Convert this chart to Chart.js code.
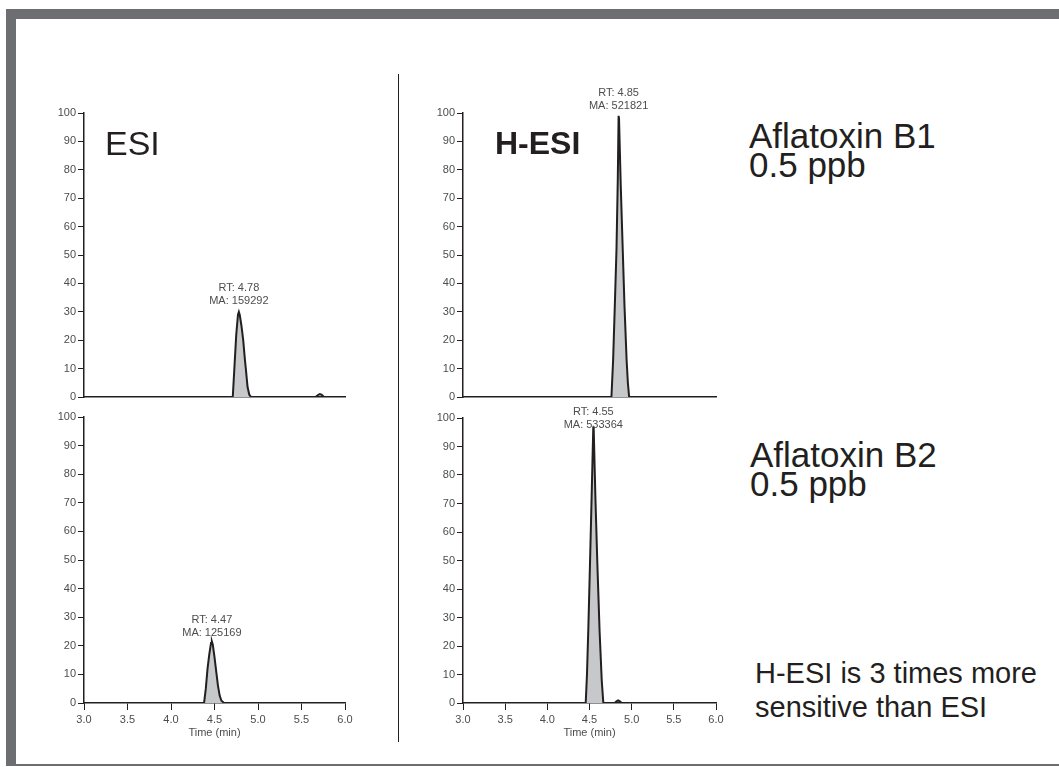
<!DOCTYPE html>
<html>
<head>
<meta charset="utf-8">
<script src="https://cdn.jsdelivr.net/npm/chart.js@4.4.0/dist/chart.umd.min.js"></script>
<style>
    html, body { margin: 0; padding: 0; background: #fff; }
    #page { position: relative; width: 1059px; height: 767px; overflow: hidden; background: #fff; }
    .frame { position: absolute; background: #6d6e71; }
    canvas { position: absolute; }
    .txt { position: absolute; white-space: nowrap; color: #231f20; font-family: "Liberation Sans", Arial, sans-serif; }
</style>
</head>
<body>
<div id="page">
    <div class="frame" style="left:6px; top:9px; width:1053px; height:10px;"></div>
    <div class="frame" style="left:6px; top:9px; width:10px; height:757px;"></div>
    <div class="frame" style="left:6px; top:764px; width:1053px; height:2px;"></div>
    <div style="position:absolute; left:398px; top:74px; width:1px; height:668px; background:#231f20;"></div>

    <canvas id="esiB1Chart" width="330" height="350" style="left:30px; top:60px;"></canvas>
    <canvas id="hesiB1Chart" width="322" height="350" style="left:409px; top:60px;"></canvas>
    <canvas id="esiB2Chart" width="330" height="348" style="left:30px; top:395px;"></canvas>
    <canvas id="hesiB2Chart" width="322" height="348" style="left:409px; top:395px;"></canvas>

    <div class="txt" style="left:105px; top:126px; font-size:34px; line-height:34px;">ESI</div>
    <div class="txt" style="left:495px; top:127px; font-size:32px; line-height:32px; font-weight:bold;">H-ESI</div>
    <div class="txt" style="left:749px; top:121px; font-size:35px; line-height:29px;">Aflatoxin B1<br>0.5 ppb</div>
    <div class="txt" style="left:750px; top:440px; font-size:35px; line-height:29px;">Aflatoxin B2<br>0.5 ppb</div>
    <div class="txt" style="left:755px; top:656px; font-size:29px; line-height:34px;">H-ESI is 3 times more<br>sensitive than ESI</div>
</div>

<script>
// ESI, Aflatoxin B1
const esiB1Time = [3.0, 4.71, 4.73, 4.75, 4.77, 4.78, 4.79, 4.81, 4.83, 4.85, 4.86, 4.88, 4.90, 4.92, 5.66, 5.69, 5.71, 5.73, 5.76, 6.0];
const esiB1Intensity = [0, 0, 11, 22, 29, 30, 29, 25, 20, 13, 10, 3.5, 0.8, 0, 0, 0.7, 1.0, 0.8, 0, 0];
const esiB1Peak = [4.71, 4.92];
const esiB1Label = ['RT: 4.78', 'MA: 159292'];

// H-ESI, Aflatoxin B1
const hesiB1Time = [3.0, 4.76, 4.78, 4.80, 4.82, 4.835, 4.845, 4.85, 4.87, 4.894, 4.915, 4.94, 4.955, 4.97, 6.0];
const hesiB1Intensity = [0, 0, 13, 32, 52, 76, 99, 98, 75, 52, 32, 13, 5, 0, 0];
const hesiB1Peak = [4.76, 4.97];
const hesiB1Label = ['RT: 4.85', 'MA: 521821'];

// ESI, Aflatoxin B2
const esiB2Time = [3.0, 4.38, 4.40, 4.42, 4.44, 4.46, 4.47, 4.48, 4.50, 4.52, 4.54, 4.56, 4.58, 4.61, 6.0];
const esiB2Intensity = [0, 0, 5, 12, 17, 21, 21.5, 20.5, 16, 11, 6, 2.5, 0.8, 0, 0];
const esiB2Peak = [4.38, 4.61];
const esiB2Label = ['RT: 4.47', 'MA: 125169'];

// H-ESI, Aflatoxin B2
const hesiB2Time = [3.0, 4.455, 4.47, 4.487, 4.506, 4.525, 4.545, 4.55, 4.57, 4.593, 4.62, 4.645, 4.664, 4.80, 4.82, 4.84, 4.86, 4.88, 6.0];
const hesiB2Intensity = [0, 0, 10, 27, 49, 72, 97, 96, 72, 49, 25, 8, 0, 0, 0.6, 0.9, 0.6, 0, 0];
const hesiB2Peak = [4.455, 4.664];
const hesiB2Label = ['RT: 4.55', 'MA: 533364'];

const timeTicks = [3.0, 3.5, 4.0, 4.5, 5.0, 5.5, 6.0];

const ink = '#231f20';
const tickGrey = '#4d4d4f';
const peakGrey = '#c6c8ca';
const smallFont = { family: '"Liberation Sans", Arial, sans-serif', size: 11 };

// RT / MA annotation above the tallest point of the trace
const peakLabelPlugin = {
    id: 'peakLabel',
    afterDatasetsDraw(chart, args, opts) {
        const data = chart.data.datasets[0].data;
        let top = 0;
        data.forEach((p, i) => { if (p.y > data[top].y) top = i; });
        const pt = chart.getDatasetMeta(0).data[top];
        const ctx = chart.ctx;
        ctx.save();
        ctx.font = '11px "Liberation Sans", Arial, sans-serif';
        ctx.fillStyle = tickGrey;
        ctx.textAlign = 'center';
        ctx.textBaseline = 'alphabetic';
        ctx.fillText(opts.lines[0], pt.x, pt.y - opts.gap - 12.5);
        ctx.fillText(opts.lines[1], pt.x, pt.y - opts.gap);
        ctx.restore();
    }
};

function buildChart(id, time, intensity, peak, lines, gap, padTop, bottomAxis) {
    const trace = time.map((t, i) => ({ x: t, y: intensity[i] }));
    const area = trace.filter(p => p.x >= peak[0] && p.x <= peak[1]);
    return new Chart(document.getElementById(id), {
        type: 'line',
        data: {
            datasets: [{
                data: trace,
                borderColor: ink,
                borderWidth: 2,
                pointRadius: 0,
                tension: 0,
                fill: false
            }, {
                data: area,
                borderWidth: 0,
                borderColor: 'rgba(0,0,0,0)',
                backgroundColor: peakGrey,
                pointRadius: 0,
                tension: 0,
                fill: 'origin'
            }]
        },
        options: {
            responsive: false,
            animation: false,
            events: [],
            layout: { padding: { top: padTop, right: 15, bottom: 0, left: 0 } },
            plugins: {
                legend: { display: false },
                tooltip: { enabled: false },
                peakLabel: { lines: lines, gap: gap }
            },
            scales: {
                x: {
                    type: 'linear',
                    min: 3,
                    max: 6,
                    afterBuildTicks: s => { s.ticks = timeTicks.map(v => ({ value: v })); },
                    ticks: {
                        display: bottomAxis,
                        autoSkip: false,
                        maxRotation: 0,
                        padding: 3,
                        color: tickGrey,
                        font: smallFont,
                        callback: v => Number(v).toFixed(1)
                    },
                    grid: { display: bottomAxis, drawOnChartArea: false, tickLength: 7, color: ink },
                    border: { display: true, color: ink, width: 1.5 },
                    title: {
                        display: bottomAxis,
                        text: 'Time (min)',
                        color: tickGrey,
                        font: smallFont,
                        padding: { top: 0, bottom: 3 }
                    },
                    afterFit: s => { s.height = bottomAxis ? 40 : 13; }
                },
                y: {
                    type: 'linear',
                    min: 0,
                    max: 100,
                    ticks: { stepSize: 10, padding: 2, color: tickGrey, font: smallFont },
                    grid: { drawOnChartArea: false, tickLength: 6, color: ink },
                    border: { display: true, color: ink, width: 1.5 },
                    afterFit: s => { s.width = 54; }
                }
            }
        },
        plugins: [peakLabelPlugin]
    });
}

buildChart('esiB1Chart', esiB1Time, esiB1Intensity, esiB1Peak, esiB1Label, 8, 53, false);
buildChart('hesiB1Chart', hesiB1Time, hesiB1Intensity, hesiB1Peak, hesiB1Label, 7, 53, false);
buildChart('esiB2Chart', esiB2Time, esiB2Intensity, esiB2Peak, esiB2Label, 6, 22, true);
buildChart('hesiB2Chart', hesiB2Time, hesiB2Intensity, hesiB2Peak, hesiB2Label, -1, 23, true);
</script>
</body>
</html>
